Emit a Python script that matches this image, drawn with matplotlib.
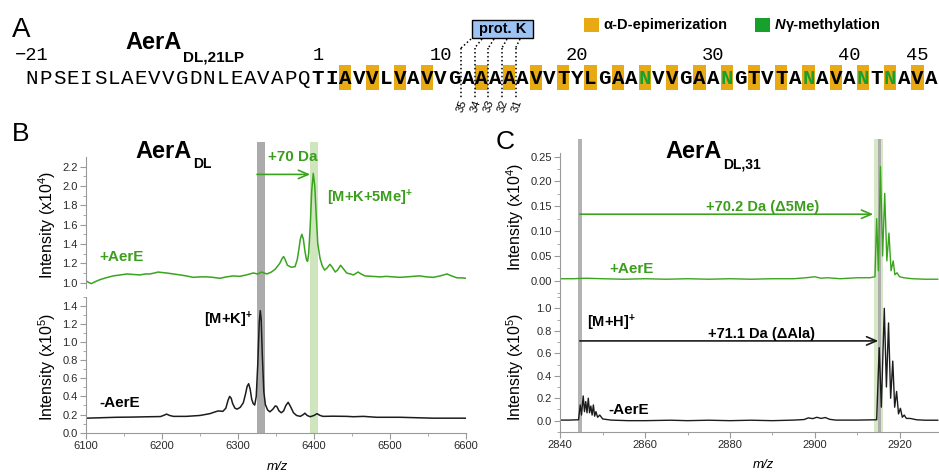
import matplotlib
matplotlib.use('Agg')
import matplotlib.pyplot as plt
from matplotlib.patches import Rectangle
from matplotlib.lines import Line2D
import matplotlib.transforms as mtransforms

plt.rcParams['font.family'] = ['Liberation Sans', 'DejaVu Sans']
plt.rcParams['mathtext.fontset'] = 'custom'
plt.rcParams['mathtext.rm'] = 'Liberation Sans'
plt.rcParams['mathtext.it'] = 'Liberation Sans:italic'
plt.rcParams['mathtext.bf'] = 'Liberation Sans:bold'

# ---------------- data ----------------
signal_peptide = "NPSEISLAEVVGDNLEAVAPQ"
core_peptide = "TIAVVLVAVVGAAAAAVVTYLGAANVVGAANGTVTANAVANTNAVA"
epimerized_positions = [3, 5, 7, 9, 13, 15, 17, 19, 21, 23, 25, 27, 29, 31,
                        33, 35, 37, 39, 41, 43, 45]
methylated_positions = [25, 31, 37, 41, 43]
position_labels = [-21, 1, 10, 20, 30, 40, 45]
protk_after_residue = [11, 12, 13, 14, 15]
protk_fragment_labels = ['35', '34', '33', '32', '31']

# Panel B, +AerE (x10^4)
b_plus_mz = [6100, 6104, 6107, 6112, 6118, 6126, 6136, 6145, 6154, 6162, 6171, 6178, 6184,
             6190, 6195, 6200, 6206, 6215, 6224, 6232, 6241, 6250, 6259, 6267, 6276, 6285,
             6294, 6302, 6311, 6320, 6326, 6331, 6338, 6344, 6349, 6355, 6358, 6360, 6362,
             6365, 6370, 6375, 6378, 6380, 6382, 6384, 6386, 6388, 6390, 6391.5, 6393, 6395,
             6397, 6399, 6401, 6403, 6405, 6408, 6411, 6414, 6417, 6421, 6424, 6428, 6431,
             6435, 6438, 6443, 6448, 6452, 6458, 6462, 6467, 6477, 6487, 6495, 6504, 6513,
             6522, 6530, 6539, 6548, 6557, 6566, 6575, 6581, 6588, 6594, 6600]
b_plus_int = [1.02, 1.00, 0.99, 1.01, 1.03, 1.05, 1.07, 1.08, 1.09, 1.085, 1.08, 1.09, 1.09,
              1.10, 1.11, 1.105, 1.10, 1.09, 1.08, 1.07, 1.055, 1.06, 1.06, 1.055, 1.045, 1.06,
              1.07, 1.065, 1.08, 1.10, 1.09, 1.11, 1.09, 1.11, 1.14, 1.20, 1.25, 1.27, 1.24,
              1.18, 1.16, 1.165, 1.24, 1.34, 1.45, 1.50, 1.45, 1.33, 1.24, 1.22, 1.30, 1.58,
              1.95, 2.13, 2.00, 1.68, 1.40, 1.25, 1.17, 1.13, 1.15, 1.19, 1.16, 1.11, 1.13,
              1.18, 1.15, 1.10, 1.09, 1.08, 1.11, 1.09, 1.07, 1.065, 1.06, 1.065, 1.06, 1.055,
              1.06, 1.065, 1.07, 1.06, 1.055, 1.07, 1.09, 1.07, 1.05, 1.05, 1.045]
# Panel B, -AerE (x10^5)
b_minus_mz = [6100, 6120, 6140, 6160, 6184, 6198, 6202, 6206, 6210, 6215, 6232, 6250, 6263,
              6270, 6274, 6280, 6284, 6287, 6289, 6291, 6293, 6296, 6299, 6303, 6307, 6310,
              6312, 6314, 6316, 6318, 6320, 6322, 6324, 6326, 6328, 6329.3, 6330.5, 6332,
              6334, 6336, 6339, 6342, 6346, 6349, 6351, 6354, 6357, 6360, 6363, 6366, 6369,
              6373, 6377, 6382, 6386, 6388, 6391, 6395, 6400, 6404, 6408, 6412, 6425, 6443,
              6452, 6465, 6482, 6513, 6557, 6600]
b_minus_int = [0.16, 0.165, 0.17, 0.172, 0.176, 0.178, 0.19, 0.205, 0.19, 0.18, 0.18, 0.19,
               0.21, 0.23, 0.24, 0.235, 0.27, 0.36, 0.40, 0.38, 0.32, 0.27, 0.26, 0.28, 0.33,
               0.43, 0.51, 0.54, 0.48, 0.37, 0.32, 0.305, 0.40, 0.75, 1.22, 1.345, 1.25, 0.85,
               0.45, 0.31, 0.25, 0.23, 0.26, 0.295, 0.29, 0.24, 0.22, 0.24, 0.30, 0.335, 0.29,
               0.22, 0.19, 0.18, 0.20, 0.215, 0.19, 0.176, 0.19, 0.21, 0.19, 0.18, 0.182, 0.18,
               0.176, 0.18, 0.17, 0.17, 0.16, 0.16]
# Panel C, +AerE (x10^4)
c_plus_mz = [2840, 2843, 2846, 2850, 2855, 2860, 2865, 2870, 2875, 2880, 2885, 2890,
             2895, 2898, 2900, 2901.5, 2903, 2906, 2910, 2913, 2914.2, 2914.6, 2915.0,
             2915.5, 2916.0, 2916.5, 2917.0, 2917.5, 2918.0, 2918.5, 2918.9, 2919.4,
             2920.0, 2921.0, 2923, 2926, 2929]
c_plus_int = [0.004, 0.004, 0.005, 0.004, 0.003, 0.004, 0.003, 0.004, 0.003, 0.004, 0.003,
              0.004, 0.004, 0.006, 0.008, 0.005, 0.006, 0.004, 0.006, 0.006, 0.008, 0.125,
              0.02, 0.23, 0.05, 0.176, 0.04, 0.096, 0.02, 0.04, 0.012, 0.016, 0.008, 0.006,
              0.004, 0.003, 0.003]
# Panel C, -AerE (x10^5)
c_minus_mz = [2840, 2842, 2844.3, 2844.7, 2845.0, 2845.4, 2845.7, 2846.0, 2846.3, 2846.6,
              2846.9, 2847.2, 2847.5, 2847.8, 2848.1, 2848.4, 2848.8, 2849.3, 2850, 2852,
              2856, 2860, 2866, 2870, 2875, 2880, 2885, 2890, 2895, 2897.5, 2898.5, 2899.5,
              2900.5, 2901.5, 2902.5, 2903.5, 2905, 2910, 2914.6, 2915.2, 2915.7, 2916.4,
              2916.9, 2917.4, 2917.9, 2918.4, 2918.85, 2919.3, 2919.75, 2920.2, 2920.65,
              2921.1, 2921.6, 2922.5, 2924, 2926, 2929]
c_minus_int = [0.005, 0.005, 0.008, 0.14, 0.05, 0.22, 0.08, 0.17, 0.07, 0.20, 0.07, 0.13,
               0.05, 0.14, 0.04, 0.08, 0.03, 0.05, 0.015, 0.005, 0.0, 0.0, 0.004, 0.0,
               0.004, 0.0, 0.004, 0.0, 0.005, 0.01, 0.025, 0.018, 0.03, 0.02, 0.028, 0.012,
               0.005, 0.005, 0.008, 0.65, 0.12, 1.0, 0.3, 0.87, 0.2, 0.53, 0.12, 0.26, 0.06,
               0.11, 0.03, 0.05, 0.02, 0.02, 0.008, 0.004, 0.004]

# ---------------- styles ----------------
W, H = 939, 475
ORANGE = '#E8AA14'
GREEN_MARK = '#18A02C'
GREEN = '#3AA41E'
GREEN_TXT = '#3B9E1C'
BLACK = '#1c1c1c'
SPINE = '#9a9a9a'

fig = plt.figure(figsize=(W / 100, H / 100), dpi=100)


def px(x):
    return x / W


def py(y):
    return 1 - y / H


def add_axes(left, top, right, bottom):
    return fig.add_axes([px(left), py(bottom), (right - left) / W, (bottom - top) / H])


# ---------------- Panel A ----------------
fig.text(px(12), py(37), 'A', fontsize=20, va='baseline')
tA = fig.text(px(125), py(49), 'AerA', fontsize=17, fontweight='bold', va='baseline')
fig.add_artist(plt.Annotation('DL,21LP', xy=(1, 0), xycoords=tA, xytext=(1, -5.5),
                              textcoords='offset points', fontsize=11,
                              fontweight='bold', va='baseline', ha='left'))

pitch = 13.625
x_first = 318.0
seq_y = 78
seq_font = 'Liberation Mono'
seq_fs = 15


def seq_x(p):
    return x_first + (p - 1) * pitch if p > 0 else x_first + p * pitch


for i, ch in enumerate(signal_peptide):
    p = i - len(signal_peptide)
    fig.text(px(seq_x(p)), py(seq_y), ch, family=seq_font, fontsize=seq_fs,
             ha='center', va='center')

for p in epimerized_positions:
    xc = seq_x(p)
    fig.add_artist(Rectangle((px(xc - 6.2), py(90)), 12.4 / W, 25 / H,
                             transform=fig.transFigure, color=ORANGE, zorder=0.5, lw=0))

for i, ch in enumerate(core_peptide):
    p = i + 1
    col = GREEN_MARK if p in methylated_positions else 'black'
    fig.text(px(seq_x(p)), py(seq_y), ch, family=seq_font, fontsize=seq_fs,
             fontweight='bold', ha='center', va='center', color=col, zorder=2)

for lab in position_labels:
    txt = str(lab).replace('-', '\u2212')
    fig.text(px(seq_x(lab)), py(55.5), txt, family=seq_font, fontsize=13.5,
             ha='center', va='center')

# prot. K box and dotted cleavage lines
fig.add_artist(Rectangle((px(472), py(38)), 61 / W, 18 / H, transform=fig.transFigure,
                         facecolor='#9DC3F5', edgecolor='black', lw=1.0, zorder=3))
fig.text(px(502.5), py(29.5), 'prot. K', fontsize=10.5, fontweight='bold',
         ha='center', va='center', zorder=4)
start_x = [471, 482, 494, 507, 520]
for k, (p, lab) in enumerate(zip(protk_after_residue, protk_fragment_labels)):
    xb = x_first + (p - 0.5) * pitch
    fig.add_artist(Line2D([px(start_x[k]), px(xb)], [py(39), py(48)],
                          transform=fig.transFigure, color='black', lw=1.1,
                          linestyle=(0, (1, 1.6)), zorder=3))
    fig.add_artist(Line2D([px(xb), px(xb)], [py(48), py(98)],
                          transform=fig.transFigure, color='black', lw=1.1,
                          linestyle=(0, (1, 1.6)), zorder=3))
    fig.text(px(xb + 1), py(99), lab, fontsize=8, rotation=70, ha='center', va='top',
             rotation_mode='default')

# legend
fig.add_artist(Rectangle((px(584), py(32)), 15 / W, 14 / H, transform=fig.transFigure,
                         color=ORANGE, lw=0))
fig.text(px(603), py(25), '\u03b1-D-epimerization', fontsize=10.5, fontweight='bold',
         va='center')
fig.add_artist(Rectangle((px(755), py(32)), 15 / W, 14 / H, transform=fig.transFigure,
                         color=GREEN_MARK, lw=0))
tN = fig.text(px(775), py(25), 'N', fontsize=10.5, fontweight='bold', style='italic',
              va='center')
fig.add_artist(plt.Annotation('\u03b3-methylation', xy=(1, 0), xycoords=tN,
                              fontsize=10.5, fontweight='bold', va='bottom', ha='left'))


# ---------------- axes helpers ----------------
def style(ax, bottom):
    for s in ['top', 'right']:
        ax.spines[s].set_visible(False)
    ax.spines['bottom'].set_visible(bottom)
    for s in ['left', 'bottom']:
        ax.spines[s].set_color(SPINE)
        ax.spines[s].set_linewidth(0.8)
    ax.tick_params(which='both', direction='out', colors=SPINE, labelcolor='#2a2a2a',
                   labelsize=8)
    ax.tick_params(which='major', length=4, width=0.8, pad=2)
    ax.tick_params(which='minor', length=2.5, width=0.6)
    if not bottom:
        ax.tick_params(axis='x', which='both', bottom=False, labelbottom=False)
    ax.patch.set_visible(False)


def band(ax, x0, x1, ytop, ybot, color, z=-1):
    tr = mtransforms.blended_transform_factory(ax.transData, fig.transFigure)
    fig.add_artist(Rectangle((x0, py(ybot)), x1 - x0, (ybot - ytop) / H, transform=tr,
                             color=color, lw=0, zorder=z))


def ticks(ax, major, minor, fmt, axis='y'):
    if axis == 'y':
        ax.set_yticks(major)
        ax.set_yticklabels([fmt % v for v in major])
        ax.set_yticks(minor, minor=True)
    else:
        ax.set_xticks(major)
        ax.set_xticklabels([fmt % v for v in major])
        ax.set_xticks(minor, minor=True)


# ---------------- Panel B ----------------
axBt = add_axes(86, 157, 466, 287.5)
axBb = add_axes(86, 296.6, 466, 432.7)
for ax in (axBt, axBb):
    ax.set_xlim(6100, 6600)
axBt.set_ylim(0.95, 2.30)
axBb.set_ylim(0.0, 1.5)
style(axBt, False)
style(axBb, True)
ticks(axBt, [1.0, 1.2, 1.4, 1.6, 1.8, 2.0, 2.2], [1.0 + 0.1 * k for k in range(13)], '%.1f')
ticks(axBb, [0.0, 0.2, 0.4, 0.6, 0.8, 1.0, 1.2, 1.4], [0.1 * k for k in range(16)], '%.1f')
ticks(axBb, [6100, 6200, 6300, 6400, 6500, 6600], [6150, 6250, 6350, 6450, 6550], '%d', 'x')

band(axBb, 6325, 6335.5, 141.7, 432.7, '#ABABAB')
band(axBb, 6395, 6405.5, 141.7, 432.7, '#CFE5BE')

axBt.plot(b_plus_mz, b_plus_int, color=GREEN, lw=1.1)
axBb.plot(b_minus_mz, b_minus_int, color=BLACK, lw=1.1)

axBt.annotate('', xy=(6395, 2.12), xytext=(6325, 2.12),
              arrowprops=dict(arrowstyle='->,head_length=0.7,head_width=0.3', color=GREEN,
                              lw=1.2, shrinkA=0, shrinkB=0))
axBt.text(6372, 2.30, '+70 Da', color=GREEN_TXT, fontsize=11, fontweight='bold',
          ha='center', va='center')
axBt.text(6417, 1.88, r'[M+K+5Me]$^{\mathbf{+}}$', color=GREEN_TXT, fontsize=10.5,
          fontweight='bold', ha='left', va='center')
axBt.text(6118, 1.27, '+AerE', color=GREEN_TXT, fontsize=11, fontweight='bold',
          ha='left', va='center')
axBb.text(6255, 1.24, r'[M+K]$^{\mathbf{+}}$', color='black', fontsize=10.5,
          fontweight='bold', ha='left', va='center')
axBb.text(6118, 0.33, '-AerE', color='black', fontsize=11, fontweight='bold',
          ha='left', va='center')

fig.text(px(12), py(141), 'B', fontsize=19, va='baseline')
tB = fig.text(px(135), py(158.3), 'AerA', fontsize=17, fontweight='bold', va='baseline')
fig.add_artist(plt.Annotation('DL', xy=(1, 0), xycoords=tB, xytext=(1, -3.5),
                              textcoords='offset points', fontsize=10, fontweight='bold',
                              va='baseline', ha='left'))
fig.text(px(47), py(225), 'Intensity (x10$^{4}$)', fontsize=11.5, rotation=90,
         ha='center', va='center')
fig.text(px(47), py(366.7), 'Intensity (x10$^{5}$)', fontsize=11.5, rotation=90,
         ha='center', va='center')
fig.text(px(277), py(467), 'm/z', fontsize=9.5, style='italic', ha='center', va='center')

# ---------------- Panel C ----------------
axCt = add_axes(560.3, 153.2, 939, 295.6)
axCb = add_axes(560.3, 297.1, 939, 431.9)
for ax in (axCt, axCb):
    ax.set_xlim(2840, 2929.3)
axCt.set_ylim(-0.03, 0.257)
axCb.set_ylim(-0.1, 1.1)
style(axCt, False)
style(axCb, True)
ticks(axCt, [0.0, 0.05, 0.10, 0.15, 0.20, 0.25], [-0.025 + 0.025 * k for k in range(12)], '%.2f')
ticks(axCb, [0.0, 0.2, 0.4, 0.6, 0.8, 1.0], [-0.1 + 0.1 * k for k in range(13)], '%.1f')
ticks(axCb, [2840, 2860, 2880, 2900, 2920], [2850, 2870, 2890, 2910], '%d', 'x')

band(axCb, 2844.2, 2845.0, 139, 431.9, '#B3B3B3')
band(axCb, 2914.0, 2916.0, 139, 431.9, '#D5E9C6')
band(axCb, 2914.9, 2915.6, 139, 431.9, '#ADADAD', z=-0.9)

axCt.plot(c_plus_mz, c_plus_int, color=GREEN, lw=1.0)
axCb.plot(c_minus_mz, c_minus_int, color=BLACK, lw=1.0)

axCt.annotate('', xy=(2913.8, 0.134), xytext=(2844.6, 0.134),
              arrowprops=dict(arrowstyle='->,head_length=0.7,head_width=0.3', color=GREEN,
                              lw=1.2, shrinkA=0, shrinkB=0))
axCt.text(2887.8, 0.148, '+70.2 Da (\u03945Me)', color=GREEN_TXT, fontsize=10.5,
          fontweight='bold', ha='center', va='center')
axCt.text(2851.5, 0.023, '+AerE', color=GREEN_TXT, fontsize=11, fontweight='bold',
          ha='left', va='center')
axCb.annotate('', xy=(2915.0, 0.71), xytext=(2844.6, 0.71),
              arrowprops=dict(arrowstyle='->,head_length=0.7,head_width=0.3', color=BLACK,
                              lw=1.2, shrinkA=0, shrinkB=0))
axCb.text(2887.4, 0.77, '+71.1 Da (\u0394Ala)', color='black', fontsize=10.5,
          fontweight='bold', ha='center', va='center')
axCb.text(2846.2, 0.87, r'[M+H]$^{\mathbf{+}}$', color='black', fontsize=10.5,
          fontweight='bold', ha='left', va='center')
axCb.text(2851.3, 0.095, '-AerE', color='black', fontsize=11, fontweight='bold',
          ha='left', va='center')

fig.text(px(496), py(149), 'C', fontsize=19, va='baseline')
tC = fig.text(px(665), py(158.3), 'AerA', fontsize=17, fontweight='bold', va='baseline')
fig.add_artist(plt.Annotation('DL,31', xy=(1, 0), xycoords=tC, xytext=(1, -3.5),
                              textcoords='offset points', fontsize=10, fontweight='bold',
                              va='baseline', ha='left'))
fig.text(px(515), py(216.7), 'Intensity (x10$^{4}$)', fontsize=11.5, rotation=90,
         ha='center', va='center')
fig.text(px(515), py(366.7), 'Intensity (x10$^{5}$)', fontsize=11.5, rotation=90,
         ha='center', va='center')
fig.text(px(763), py(465), 'm/z', fontsize=9.5, style='italic', ha='center', va='center')

fig.savefig('out.png', dpi=100, facecolor='white')
